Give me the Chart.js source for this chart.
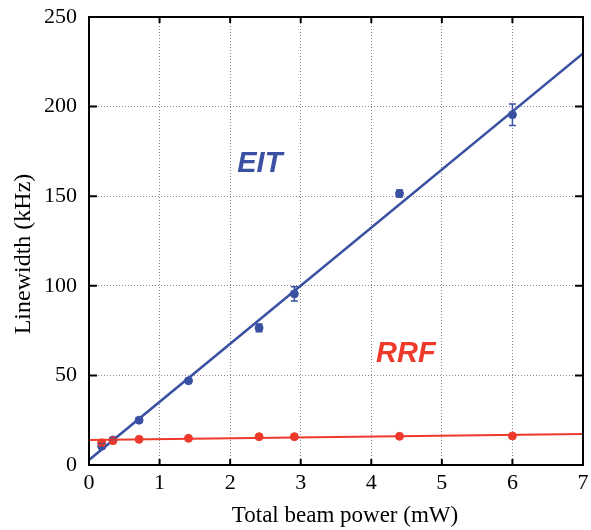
<!DOCTYPE html>
<html><head><meta charset="utf-8">
<script src="https://cdn.jsdelivr.net/npm/chart.js@4/dist/chart.umd.min.js"></script>
<style>html,body{margin:0;padding:0;background:#fff}#wrap{width:591px;height:530px}</style>
</head><body><div id="wrap"><canvas id="c" width="591" height="530"></canvas></div>
<script>
// ---- data ----
const power = [0.18, 0.34, 0.71, 1.41, 2.41, 2.91, 4.40, 6.00];
const eitWidth = [10.5, 14.0, 25.0, 47.0, 76.5, 95.5, 151.5, 195.5];
const eitErr   = [1.5, 0.8, 1.2, 1.0, 2.2, 4.0, 2.0, 6.0];
const rrfWidth = [12.4, 13.6, 14.3, 14.9, 15.8, 15.8, 16.0, 16.2];
const rrfErr   = [1.2, 0.6, 0.5, 0.5, 0.5, 0.5, 0.5, 0.5];
const fitX = [0, 7];
const eitFit = [2.8, 229.7];
const rrfFit = [14.0, 17.3];
const xTicks = [0, 1, 2, 3, 4, 5, 6, 7];
const yTicks = [0, 50, 100, 150, 200, 250];
const labelNames = ['EIT', 'RRF'];
const labelAt = [[2.42, 168], [4.49, 62]];
const xTitle = 'Total beam power (mW)';
const yTitle = 'Linewidth (kHz)';

const BLUE = '#3a50a2';
const RED = '#ee3a2b';
const serif = '"Liberation Serif", "Times New Roman", serif';
const toPts = (xs, ys) => xs.map((x, i) => ({x, y: ys[i]}));

const errPlugin = {
  id: 'errbars',
  afterDatasetsDraw(chart) {
    const {ctx, scales: {x, y}} = chart;
    const sets = [[eitWidth, eitErr, BLUE], [rrfWidth, rrfErr, RED]];
    ctx.save();
    ctx.lineWidth = 1.5;
    sets.forEach(([vals, errs, col]) => {
      ctx.strokeStyle = col;
      vals.forEach((v, i) => {
        const px = x.getPixelForValue(power[i]);
        const y1 = y.getPixelForValue(v - errs[i]);
        const y2 = y.getPixelForValue(v + errs[i]);
        ctx.beginPath();
        ctx.moveTo(px, y1); ctx.lineTo(px, y2);
        ctx.moveTo(px - 3.5, y1); ctx.lineTo(px + 3.5, y1);
        ctx.moveTo(px - 3.5, y2); ctx.lineTo(px + 3.5, y2);
        ctx.stroke();
      });
    });
    ctx.font = 'italic bold 29px "Liberation Sans", Arial, sans-serif';
    ctx.textAlign = 'center';
    ctx.textBaseline = 'middle';
    [BLUE, RED].forEach((col, i) => {
      ctx.fillStyle = col;
      ctx.fillText(labelNames[i], x.getPixelForValue(labelAt[i][0]), y.getPixelForValue(labelAt[i][1]));
    });
    ctx.restore();
  },
  afterDraw(chart) {
    const {ctx, chartArea: a, scales: {x, y}} = chart;
    ctx.save();
    ctx.strokeStyle = '#000';
    ctx.lineWidth = 2;
    ctx.strokeRect(a.left, a.top, a.right - a.left, a.bottom - a.top);
    ctx.beginPath();
    yTicks.forEach(t => {
      const py = y.getPixelForValue(t);
      ctx.moveTo(a.left, py); ctx.lineTo(a.left + 8, py);
      ctx.moveTo(a.right, py); ctx.lineTo(a.right - 8, py);
    });
    xTicks.forEach(t => {
      const px = x.getPixelForValue(t);
      ctx.moveTo(px, a.bottom); ctx.lineTo(px, a.bottom - 6);
      ctx.moveTo(px, a.top); ctx.lineTo(px, a.top + 6);
    });
    ctx.stroke();
    // axis titles
    ctx.fillStyle = '#000';
    ctx.textAlign = 'center';
    ctx.textBaseline = 'middle';
    ctx.font = '23px ' + serif;
    ctx.fillText(xTitle, a.left + 256, a.bottom + 51);
    ctx.translate(24, a.top + 237);
    ctx.rotate(-Math.PI / 2);
    ctx.font = '24px ' + serif;
    ctx.fillText(yTitle, 0, 0);
    ctx.restore();
  }
};

new Chart(document.getElementById('c'), {
  type: 'scatter',
  data: {
    datasets: [
      {label: 'RRF fit', type: 'line', data: toPts(fitX, rrfFit), borderColor: RED, borderWidth: 2, pointRadius: 0, fill: false, order: 1},
      {label: 'RRF', data: toPts(power, rrfWidth), backgroundColor: RED, borderColor: RED, pointRadius: 4, order: 2},
      {label: 'EIT fit', type: 'line', data: toPts(fitX, eitFit), borderColor: BLUE, borderWidth: 2.5, pointRadius: 0, fill: false, order: 3},
      {label: 'EIT', data: toPts(power, eitWidth), backgroundColor: BLUE, borderColor: BLUE, pointRadius: 4, order: 4}
    ]
  },
  options: {
    responsive: false,
    animation: false,
    layout: {padding: {top: 17, right: 8, left: 0, bottom: 0}},
    plugins: {legend: {display: false}, tooltip: {enabled: false}},
    scales: {
      x: {
        type: 'linear', min: 0, max: 7,
        afterBuildTicks: s => { s.ticks = xTicks.map(v => ({value: v})); },
        afterFit: s => { s.height = 65; s.paddingLeft = 0; s.paddingRight = 0; },
        grid: {color: '#8a8a8a', lineWidth: 1, drawTicks: false},
        border: {display: false, dash: [1, 2]},
        ticks: {padding: 5, color: '#000', font: {family: serif, size: 22}}
      },
      y: {
        type: 'linear', min: 0, max: 250,
        afterBuildTicks: s => { s.ticks = yTicks.map(v => ({value: v})); },
        afterFit: s => { s.width = 89; s.paddingTop = 0; s.paddingBottom = 0; },
        grid: {color: '#8a8a8a', lineWidth: 1, drawTicks: false},
        border: {display: false, dash: [1, 2]},
        ticks: {padding: 12, color: '#000', font: {family: serif, size: 22}}
      }
    }
  },
  plugins: [errPlugin]
});
</script></body></html>
